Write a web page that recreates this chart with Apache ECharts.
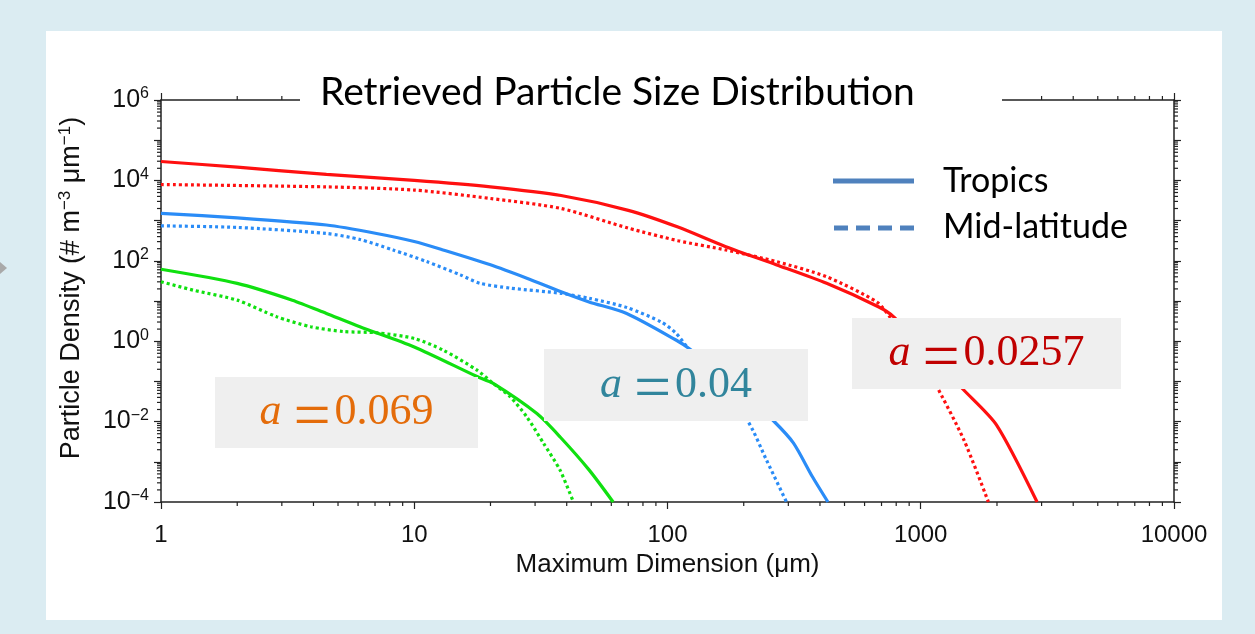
<!DOCTYPE html>
<html>
<head>
<meta charset="utf-8">
<script src="https://cdn.jsdelivr.net/npm/echarts@6/dist/echarts.min.js"></script>
<style>
html,body{margin:0;padding:0;background:#dbecf2;overflow:hidden;}
#panel{position:absolute;left:46px;top:31px;width:1176px;height:589px;background:#fff;}
#main{position:absolute;left:0;top:0;width:1255px;height:634px;}
</style>
</head>
<body>
<div id="panel"></div>
<div id="main"></div>
<script>
// maximum dimension (um) and particle density (# m^-3 um^-1)
// a = 0.0257 (red)
var redTropD = [1, 2, 4.5, 10, 20, 38, 70, 110, 170, 270, 425, 680, 780, 1000, 1475, 1990, 2880];
var redTropN = [29500, 21400, 14100, 10000, 6900, 4200, 1800, 690, 224, 79, 27.5, 7.2, 4.1, 0.8, 0.062, 0.0083, 0.0001];
var redMidD = [1, 4.5, 10, 20, 38, 70, 110, 170, 270, 425, 670, 760, 1000, 1140, 1480, 1850];
var redMidN = [7900, 6900, 5750, 3550, 2000, 650, 316, 186, 95, 40, 9.5, 3.8, 0.35, 0.089, 0.0035, 0.0001];
// a = 0.04 (blue)
var blueTropD = [1, 2, 4.5, 7.1, 10, 13, 20, 28, 38, 49, 69, 108, 122, 180, 262, 314, 373, 430];
var blueTropN = [1514, 1175, 776, 479, 302, 186, 79.4, 36.3, 17.0, 9.5, 4.9, 1.07, 0.65, 0.1, 0.0105, 0.00295, 0.00043, 0.0001];
var blueMidD = [1, 2, 4.5, 6.1, 8.25, 11.2, 15.2, 18.2, 24, 38, 49, 69, 95, 108, 119, 206, 246, 295];
var blueMidN = [741, 676, 479, 339, 186, 95.5, 44.7, 27.5, 20.9, 15.5, 11.7, 6.9, 2.95, 1.58, 0.74, 0.011, 0.0011, 0.0001];
// a = 0.069 (green)
var greenTropD = [1, 2, 3.3, 4.5, 6.1, 10, 17.7, 20.5, 30.5, 37.6, 49, 61];
var greenTropN = [61.7, 27.5, 10.5, 4.9, 2.29, 0.72, 0.132, 0.089, 0.0158, 0.0042, 0.00063, 0.0001];
var greenMidD = [1, 1.34, 2, 2.86, 3.9, 5.25, 7.1, 10, 13, 17.7, 20.5, 23.9, 27.8, 32.4, 37.6, 42.5];
var greenMidN = [30.2, 18.6, 10.5, 4.07, 2.29, 1.74, 1.62, 1.17, 0.60, 0.19, 0.089, 0.0417, 0.0132, 0.00288, 0.00063, 0.0001];

var xLabels = [1, 10, 100, 1000, 10000];
var yLabelExp = [-4, -2, 0, 2, 4, 6];
var aLabels = ['0.069', '0.04', '0.0257'];

var axisColor = '#222';
var labelFont = '"Liberation Sans", Arial, sans-serif';

function pairs(xs, ys){
	var out = [];
	for (var i = 0; i < xs.length; i++) out.push([xs[i], ys[i]]);
	return out;
}
function lineSeries(name, xs, ys, color, dotted){
	return {
		name: name,
		type: 'line',
		data: pairs(xs, ys),
		showSymbol: false,
		smooth: 0.25,
		lineStyle: {color: color, width: 3.2, type: dotted ? [3, 3] : 'solid', cap: 'butt'},
		z: 3
	};
}

var chart = echarts.init(document.getElementById('main'));
var option = {
	animation: false,
	title: {
		text: 'Retrieved Particle Size Distribution',
		left: 320,
		top: 73,
		padding: 0,
		textStyle: {fontFamily: 'Lato', fontSize: 39, fontWeight: 'normal', color: '#000'}
	},
	grid: {left: 161, right: 81, top: 100, bottom: 132},
	xAxis: [{
		type: 'log', min: 1, max: 10000, position: 'bottom',
		name: 'Maximum Dimension (\u03bcm)', nameLocation: 'middle', nameGap: 48,
		nameTextStyle: {fontFamily: labelFont, fontSize: 26, color: '#111'},
		axisLine: {lineStyle: {color: axisColor, width: 1.5}},
		axisTick: {inside: false, length: 7, lineStyle: {color: axisColor, width: 1.2}},
		axisLabel: {
			margin: 21, fontFamily: labelFont, fontSize: 24, color: '#111',
			formatter: function(v){ return xLabels.indexOf(Math.round(v)) >= 0 ? String(Math.round(v)) : ''; }
		},
		splitLine: {show: false}
	}, {
		type: 'log', min: 1, max: 10000, position: 'top',
		axisLine: {lineStyle: {color: axisColor, width: 1.5}},
		axisTick: {inside: false, length: 7, lineStyle: {color: axisColor, width: 1.2}},
		axisLabel: {show: false},
		splitLine: {show: false}
	}],
	yAxis: [{
		type: 'log', min: 1e-4, max: 1e6, position: 'left', splitNumber: 10,
		name: '{n|Particle Density (# m}{s|\u22123}{n| \u03bcm}{s|\u22121}{n|)}',
		nameLocation: 'middle', nameGap: 74, nameRotate: 90,
		nameTextStyle: {
			padding: [0, 0, 0, 26],
			rich: {
				n: {fontFamily: labelFont, fontSize: 27, color: '#111', lineHeight: 30},
				s: {fontFamily: labelFont, fontSize: 17, color: '#111', lineHeight: 17, verticalAlign: 'top'}
			}
		},
		axisLine: {lineStyle: {color: axisColor, width: 1.5}},
		axisTick: {inside: false, length: 7, lineStyle: {color: axisColor, width: 1.2}},
		axisLabel: {
			margin: 12,
			formatter: function(v){
				var e = Math.round(Math.log10(v));
				if (yLabelExp.indexOf(e) < 0) return '';
				return '{b|10}{s|' + (e < 0 ? '\u2212' + (-e) : e) + '}';
			},
			rich: {
				b: {fontFamily: labelFont, fontSize: 25, color: '#111', lineHeight: 28},
				s: {fontFamily: labelFont, fontSize: 16, color: '#111', lineHeight: 16, verticalAlign: 'top'}
			}
		},
		splitLine: {show: false}
	}, {
		type: 'log', min: 1e-4, max: 1e6, position: 'right', splitNumber: 10,
		axisLine: {lineStyle: {color: axisColor, width: 1.5}},
		axisTick: {inside: false, length: 7, lineStyle: {color: axisColor, width: 1.2}},
		axisLabel: {show: false},
		splitLine: {show: false}
	}],
	series: [
		lineSeries('a=0.0257 Tropics', redTropD, redTropN, '#ff1010', false),
		lineSeries('a=0.0257 Mid-latitude', redMidD, redMidN, '#ff1010', true),
		lineSeries('a=0.04 Tropics', blueTropD, blueTropN, '#2a8cf7', false),
		lineSeries('a=0.04 Mid-latitude', blueMidD, blueMidN, '#2a8cf7', true),
		lineSeries('a=0.069 Tropics', greenTropD, greenTropN, '#10e010', false),
		lineSeries('a=0.069 Mid-latitude', greenMidD, greenMidN, '#10e010', true)
	]
};
chart.setOption(option);

// minor log ticks and overlays
var x0 = chart.convertToPixel({xAxisIndex: 0}, 1);
var x1 = chart.convertToPixel({xAxisIndex: 0}, 10000);
var y0 = chart.convertToPixel({yAxisIndex: 0}, 1e-4);
var y1 = chart.convertToPixel({yAxisIndex: 0}, 1e6);
var g = [];
function tick(a, b, c, d){
	g.push({type: 'line', silent: true, z: 1, shape: {x1: a, y1: b, x2: c, y2: d}, style: {stroke: axisColor, lineWidth: 1.2}});
}
for (var dec = 1; dec < 10000; dec *= 10){
	for (var k = 2; k <= 9; k++){
		var px = chart.convertToPixel({xAxisIndex: 0}, k * dec);
		tick(px, y0, px, y0 + 4);
		tick(px, y1, px, y1 - 4);
	}
}
for (var e = -4; e < 6; e++){
	for (var k = 2; k <= 9; k++){
		var py = chart.convertToPixel({yAxisIndex: 0}, k * Math.pow(10, e));
		tick(x0, py, x0 - 4, py);
		tick(x1, py, x1 + 4, py);
	}
}
// gap in the top frame behind the title
g.push({type: 'rect', silent: true, z: 5, shape: {x: 300, y: 88, width: 702, height: 20}, style: {fill: '#fff'}});
// legend
g.push({type: 'line', z: 10, shape: {x1: 833, y1: 181, x2: 914, y2: 181}, style: {stroke: '#4f81bd', lineWidth: 5}});
g.push({type: 'line', z: 10, shape: {x1: 834, y1: 228, x2: 916, y2: 228}, style: {stroke: '#4f81bd', lineWidth: 5, lineDash: [14, 8]}});
g.push({type: 'text', z: 10, style: {text: 'Tropics', x: 943, y: 181, font: '34px Lato', fill: '#000', verticalAlign: 'middle'}});
g.push({type: 'text', z: 10, style: {text: 'Mid-latitude', x: 943, y: 227, font: '34px Lato', fill: '#000', verticalAlign: 'middle'}});
// a labels
var boxes = [
	{x: 215, y: 377, w: 263, h: 71, color: '#e46c0a'},
	{x: 544, y: 349, w: 264, h: 72, color: '#31859c'},
	{x: 852, y: 318, w: 269, h: 71, color: '#c00000'}
];
for (var i = 0; i < boxes.length; i++){
	var b = boxes[i];
	g.push({type: 'rect', z: 20, shape: {x: b.x, y: b.y, width: b.w, height: b.h}, style: {fill: '#efefef'}});
	g.push({type: 'text', z: 21, style: {
		text: '{a|a}{e|=}{n|' + aLabels[i] + '}',
		x: b.x + b.w / 2, y: b.y + b.h / 2, align: 'center', verticalAlign: 'middle',
		rich: {
			a: {fontFamily: '"Liberation Serif"', fontStyle: 'italic', fontSize: 44, fill: b.color, lineHeight: 50},
			e: {fontFamily: '"Liberation Serif"', fontSize: 66, fill: b.color, padding: [14, 4, 0, 12], lineHeight: 50},
			n: {fontFamily: '"Liberation Serif"', fontSize: 44, fill: b.color, lineHeight: 50}
		}
	}});
}
g.push({type: 'polygon', z: 1, shape: {points: [[0, 262], [7, 268], [0, 274]]}, style: {fill: '#a9a9a9'}});
chart.setOption({graphic: g});
</script>
</body>
</html>
